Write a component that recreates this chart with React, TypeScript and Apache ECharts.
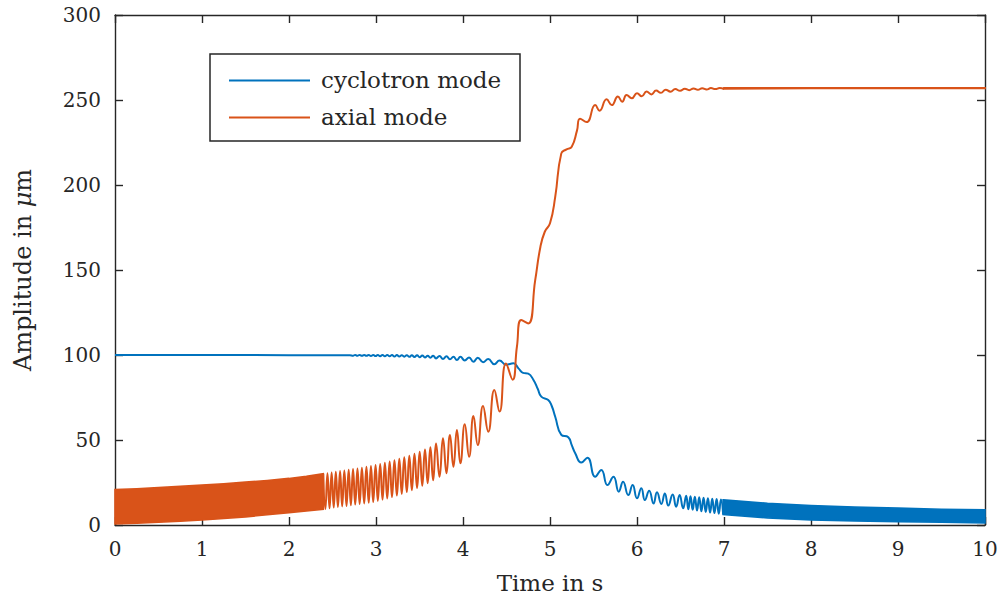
import React, { useEffect, useRef } from 'react';
import * as echarts from 'echarts';

// ---------- data ----------
const X_TICKS = [0, 1, 2, 3, 4, 5, 6, 7, 8, 9, 10];
const Y_TICKS = [0, 50, 100, 150, 200, 250, 300];

const BLUE = '#0072BD';
const ORANGE = '#D95319';

// cyclotron mode: resolved part (time s, amplitude µm)
const CYCLOTRON_LINE: number[][] = [
  [0, 100], [1, 100], [2, 99.9], [2.7, 99.85],
  [2.736, 99.6], [2.761, 100.05], [2.787, 99.6], [2.812, 100.05], [2.838, 99.55], [2.864, 100.05],
  [2.89, 99.5], [2.916, 100.05], [2.942, 99.45], [2.968, 100.05],
  [2.995, 99.35], [3.021, 100.05], [3.048, 99.3], [3.075, 100.05], [3.102, 99.25], [3.129, 100.0],
  [3.157, 99.2], [3.184, 100.0], [3.212, 99.1], [3.24, 99.95], [3.268, 99.05], [3.296, 99.9],
  [3.325, 99.0], [3.354, 99.9], [3.383, 98.9], [3.412, 99.85], [3.442, 98.8], [3.472, 99.8],
  [3.502, 98.7], [3.532, 99.7], [3.563, 98.6], [3.594, 99.6], [3.625, 98.4], [3.657, 99.6],
  [3.69, 98.0], [3.73, 99.4], [3.77, 97.7], [3.81, 99.2], [3.85, 97.5], [3.89, 99.0],
  [3.93, 97.0], [3.97, 98.9], [4.02, 96.8], [4.07, 98.6], [4.12, 96.0], [4.17, 98.4],
  [4.23, 95.8], [4.29, 97.6], [4.36, 94.6], [4.42, 96.8], [4.494, 94.3], [4.58, 95.1],
  [4.64, 92.0], [4.69, 89.5], [4.75, 89.0], [4.81, 85.3], [4.86, 80.0], [4.9, 75.5],
  [4.98, 73.5], [5.02, 70.0], [5.06, 63.7], [5.13, 53.0], [5.21, 51.6], [5.25, 47.0],
  [5.29, 42.2], [5.36, 36.7], [5.43, 39.6], [5.52, 28.4], [5.59, 32.4], [5.66, 23.5],
  [5.73, 28.4], [5.79, 19.6], [5.84, 25.5], [5.9, 17.6], [5.95, 23.5], [6.0, 15.7],
  [6.05, 21.6], [6.09, 14.7], [6.14, 20.2], [6.19, 12.7], [6.23, 19.2], [6.28, 12.4],
  [6.32, 18.6], [6.36, 11.4], [6.41, 18.0], [6.45, 10.8], [6.49, 17.6], [6.53, 9.8],
  [6.565, 17.2], [6.59, 9.3], [6.615, 16.9], [6.64, 8.9], [6.665, 16.6], [6.69, 8.5],
  [6.715, 16.3], [6.74, 8.1], [6.765, 16.0], [6.79, 7.7], [6.815, 15.7], [6.84, 7.3],
  [6.865, 15.5], [6.89, 7.0], [6.915, 15.3], [6.94, 6.6], [6.965, 15.0], [6.99, 6.2]
];
// cyclotron mode: unresolved fast oscillation (envelope band)
const CYCLOTRON_BAND_T = [6.99, 7.5, 8.0, 8.5, 9.0, 9.5, 10.0];
const CYCLOTRON_BAND_UPPER = [14.8, 12.8, 11.5, 10.6, 9.9, 9.3, 8.9];
const CYCLOTRON_BAND_LOWER = [6.2, 4.2, 3.0, 2.4, 2.0, 1.6, 1.2];

// axial mode: unresolved early oscillation (envelope band)
const AXIAL_BAND_EARLY_T = [0, 0.25, 0.5, 0.75, 1.0, 1.25, 1.5, 1.75, 2.0, 2.2, 2.394];
const AXIAL_BAND_EARLY_UPPER = [20.8, 21.3, 22.0, 22.7, 23.5, 24.3, 25.2, 26.2, 27.4, 28.6, 30.2];
const AXIAL_BAND_EARLY_LOWER = [0.6, 1.0, 1.6, 2.2, 2.9, 3.8, 4.8, 6.0, 7.3, 8.2, 9.2];

// axial mode: resolved part
const AXIAL_LINE: number[][] = [
  [2.394, 30.2], [2.418, 9.4],
  [2.442, 30.5], [2.466, 9.8], [2.49, 30.9], [2.514, 10.3], [2.538, 31.3], [2.562, 10.6],
  [2.587, 31.7], [2.611, 10.9], [2.636, 32.1], [2.661, 11.2], [2.686, 32.5], [2.711, 11.6],
  [2.736, 32.9], [2.761, 12.0], [2.787, 33.3], [2.812, 12.3], [2.838, 33.7], [2.864, 12.7],
  [2.89, 34.2], [2.916, 13.1], [2.942, 34.7], [2.968, 13.5], [2.995, 35.3], [3.021, 14.2],
  [3.048, 35.9], [3.075, 14.9], [3.102, 36.6], [3.129, 15.6], [3.157, 37.3], [3.184, 16.4],
  [3.212, 38.1], [3.24, 17.3], [3.268, 38.9], [3.296, 18.3], [3.325, 39.8], [3.354, 19.4],
  [3.383, 40.8], [3.412, 20.5], [3.442, 41.9], [3.472, 21.8], [3.502, 43.1], [3.532, 23.1],
  [3.563, 44.4], [3.594, 24.6], [3.625, 45.8], [3.657, 26.3], [3.69, 48.0], [3.73, 28.4],
  [3.77, 51.0], [3.81, 30.4], [3.85, 53.0], [3.89, 34.3], [3.93, 55.9], [3.97, 36.3],
  [4.02, 59.2], [4.07, 40.2], [4.12, 64.1], [4.17, 47.0], [4.23, 70.0], [4.29, 54.9],
  [4.36, 79.4], [4.42, 66.7], [4.494, 95.0], [4.57, 85.5], [4.62, 105.0], [4.67, 120.6],
  [4.75, 118.6], [4.83, 144.0], [4.89, 163.7], [4.94, 172.5], [5.0, 177.5], [5.06, 193.0],
  [5.13, 218.6], [5.19, 221.0], [5.25, 222.5], [5.31, 232.0], [5.345, 239.0], [5.42, 237.0],
  [5.52, 247.0], [5.57, 243.7], [5.65, 250.4], [5.71, 247.0], [5.78, 252.0], [5.83, 249.0],
  [5.88, 253.0], [5.94, 251.0], [6.0, 254.0], [6.055, 252.2], [6.11, 255.0], [6.165, 253.3],
  [6.22, 255.6], [6.275, 254.2], [6.33, 256.1], [6.385, 254.9], [6.44, 256.4], [6.495, 255.4],
  [6.55, 256.6], [6.6, 255.8], [6.65, 256.8], [6.7, 256.0], [6.75, 256.9], [6.8, 256.2],
  [6.85, 257.0], [6.9, 256.4], [6.95, 257.0], [7.0, 256.5]
];
// axial mode: late small oscillation (envelope band)
const AXIAL_BAND_LATE_T = [7.0, 7.5, 8.0, 9.0, 10.0];
const AXIAL_BAND_LATE_UPPER = [257.05, 257.1, 257.1, 257.1, 257.1];
const AXIAL_BAND_LATE_LOWER = [256.5, 256.75, 256.85, 256.9, 256.9];

const FONT = '"DejaVu Serif", "Liberation Serif", serif';
const INK = '#262626';

function bandSeries(name: string, t: number[], lo: number[], up: number[], color: string, stroke: number) {
  const data = t.map((x, i) => [x, lo[i], up[i]]);
  return {
    type: 'custom',
    name,
    coordinateSystem: 'cartesian2d',
    data,
    encode: { x: 0, y: [1, 2] },
    silent: true,
    renderItem: (params: any, api: any) => {
      if (params.dataIndex !== 0) return null;
      const top = data.map((d) => api.coord([d[0], d[2]]));
      const bottom = data.map((d) => api.coord([d[0], d[1]])).reverse();
      return {
        type: 'polygon',
        shape: { points: top.concat(bottom), smooth: 0 },
        style: { fill: color, stroke: color, lineWidth: stroke }
      };
    }
  };
}

function lineSeries(name: string, data: number[][], color: string) {
  return {
    type: 'line',
    name,
    data,
    showSymbol: false,
    symbol: 'none',
    smooth: 0.5,
    lineStyle: { color, width: 2 },
    itemStyle: { color },
    silent: true
  };
}

function frameAxis(kind: 'x' | 'y', position: string, labelled: boolean) {
  const ticks = kind === 'x' ? X_TICKS : Y_TICKS;
  const base: any = {
    type: 'value',
    min: ticks[0],
    max: ticks[ticks.length - 1],
    interval: ticks[1] - ticks[0],
    position,
    axisLine: { show: true, onZero: false, lineStyle: { color: INK, width: 1.4 } },
    axisTick: { show: true, inside: true, length: 8, lineStyle: { color: INK, width: 1.4 } },
    splitLine: { show: false },
    axisLabel: labelled
      ? { show: true, margin: 14, color: INK, fontFamily: FONT, fontSize: 20 }
      : { show: false }
  };
  return base;
}

export default function App() {
  const ref = useRef<HTMLDivElement>(null);
  useEffect(() => {
    if (!ref.current) return;
    const chart = echarts.init(ref.current, undefined, { renderer: 'svg' });
    const xBottom = frameAxis('x', 'bottom', true);
    xBottom.name = 'Time in s';
    xBottom.nameLocation = 'middle';
    xBottom.nameGap = 46;
    xBottom.nameTextStyle = { color: INK, fontFamily: FONT, fontSize: 23 };
    const yLeft = frameAxis('y', 'left', true);
    yLeft.name = 'Amplitude in {i|μ}m';
    yLeft.nameLocation = 'middle';
    yLeft.nameGap = 80;
    yLeft.nameRotate = 90;
    yLeft.nameTextStyle = {
      color: INK, fontFamily: FONT, fontSize: 24,
      rich: { i: { fontStyle: 'italic', fontFamily: FONT, fontSize: 24, color: INK } }
    };
    chart.setOption({
      animation: false,
      backgroundColor: '#ffffff',
      grid: { left: 115, right: 17, top: 15, bottom: 78, containLabel: false },
      xAxis: [xBottom, frameAxis('x', 'top', false)],
      yAxis: [yLeft, frameAxis('y', 'right', false)],
      series: [
        lineSeries('cyclotron mode', CYCLOTRON_LINE, BLUE),
        bandSeries('cyclotron band', CYCLOTRON_BAND_T, CYCLOTRON_BAND_LOWER, CYCLOTRON_BAND_UPPER, BLUE, 1.6),
        bandSeries('axial band early', AXIAL_BAND_EARLY_T, AXIAL_BAND_EARLY_LOWER, AXIAL_BAND_EARLY_UPPER, ORANGE, 1.6),
        lineSeries('axial mode', AXIAL_LINE, ORANGE),
        bandSeries('axial band late', AXIAL_BAND_LATE_T, AXIAL_BAND_LATE_LOWER, AXIAL_BAND_LATE_UPPER, ORANGE, 1.8)
      ],
      graphic: [
        {
          type: 'rect', z: 100,
          shape: { x: 210, y: 54, width: 310, height: 87 },
          style: { fill: '#ffffff', stroke: INK, lineWidth: 1.5 }
        },
        {
          type: 'line', z: 101,
          shape: { x1: 229, y1: 80.5, x2: 310, y2: 80.5 },
          style: { stroke: BLUE, lineWidth: 2 }
        },
        {
          type: 'text', z: 101, x: 321, y: 80,
          style: { text: 'cyclotron mode', fontFamily: FONT, fontSize: 23, fill: INK, verticalAlign: 'middle', align: 'left' }
        },
        {
          type: 'line', z: 101,
          shape: { x1: 229, y1: 117.5, x2: 310, y2: 117.5 },
          style: { stroke: ORANGE, lineWidth: 2 }
        },
        {
          type: 'text', z: 101, x: 321, y: 117,
          style: { text: 'axial mode', fontFamily: FONT, fontSize: 23, fill: INK, verticalAlign: 'middle', align: 'left' }
        }
      ]
    });
    return () => chart.dispose();
  }, []);
  return (
    <div
      ref={ref}
      style={{ position: 'fixed', left: 0, top: 0, width: 1002, height: 603, background: '#fff' }}
    />
  );
}
